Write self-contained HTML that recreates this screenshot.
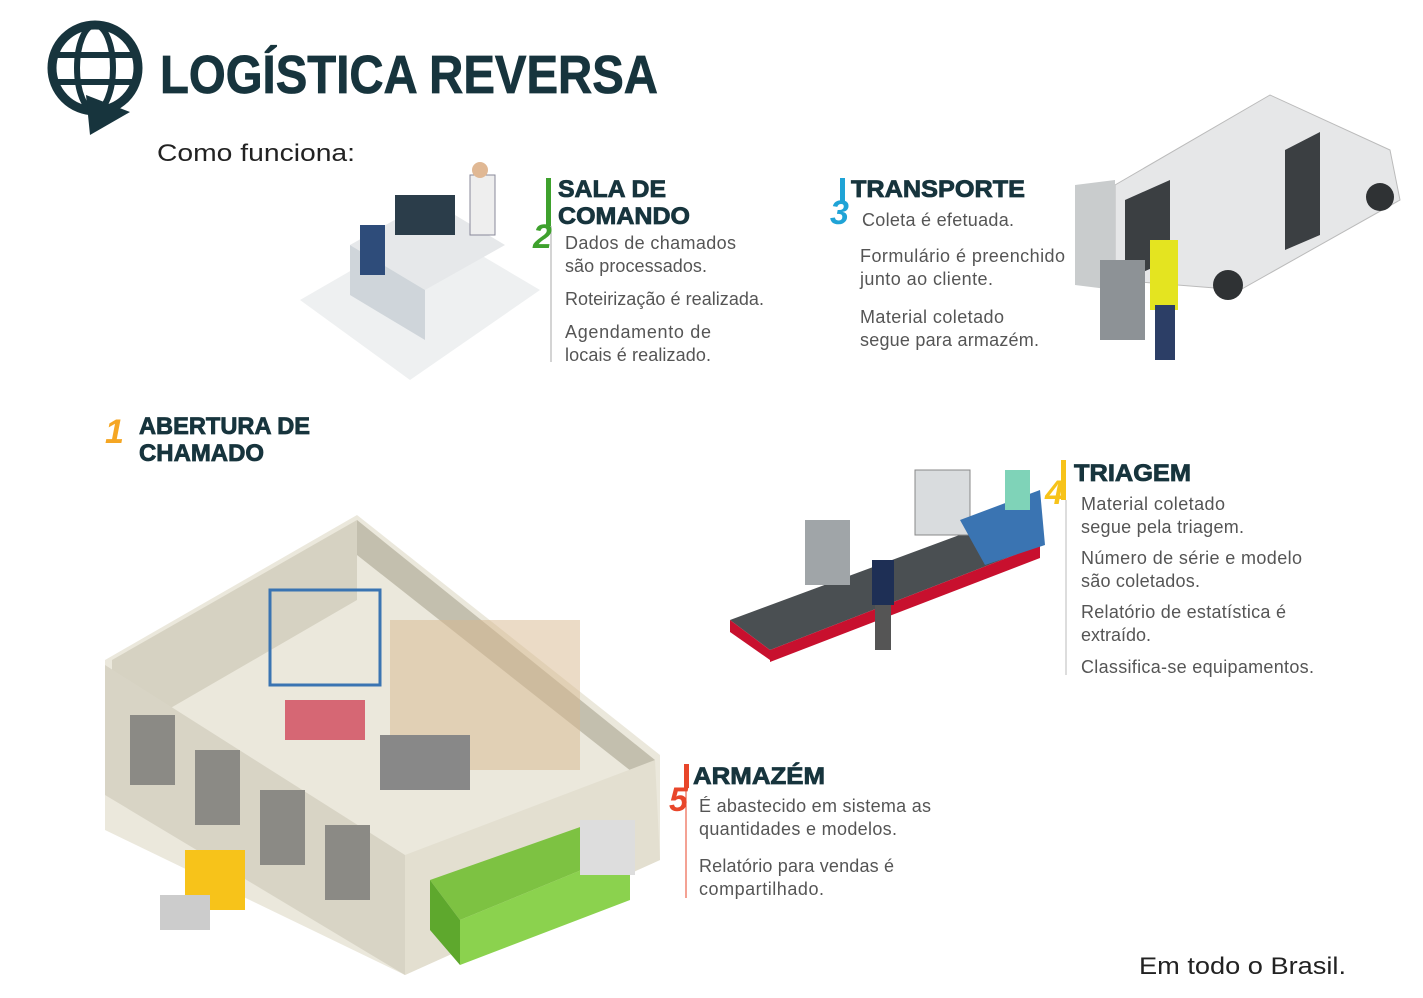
<!DOCTYPE html>
<html><head><meta charset="utf-8"><style>
html,body{margin:0;padding:0;background:#fff;}
svg{display:block}
.h{font-family:"Liberation Sans",sans-serif;font-weight:bold;fill:#17343d;stroke:#17343d;stroke-width:0.8}
.t{font-family:"Liberation Sans",sans-serif;fill:#555;font-size:18px}
.n{font-family:"Liberation Sans",sans-serif;font-weight:bold;font-style:italic;font-size:34px}
</style></head><body>
<svg width="1423" height="998" viewBox="0 0 1423 998" xmlns="http://www.w3.org/2000/svg">
<!-- logo -->
<circle cx="95" cy="68" r="43" fill="none" stroke="#17343d" stroke-width="9"/>
<ellipse cx="95" cy="68" rx="18" ry="43" fill="none" stroke="#17343d" stroke-width="6"/>
<line x1="52" y1="55" x2="138" y2="55" stroke="#17343d" stroke-width="6"/>
<line x1="52" y1="82" x2="138" y2="82" stroke="#17343d" stroke-width="6"/>
<polygon points="86,95 130,112 90,135" fill="#17343d"/>
<text class="h" x="160" y="93" font-size="54" textLength="498" lengthAdjust="spacingAndGlyphs" stroke-width="2">LOGÍSTICA REVERSA</text>
<text x="157" y="161" font-family="Liberation Sans,sans-serif" font-size="24" fill="#222" textLength="198" lengthAdjust="spacingAndGlyphs">Como funciona:</text>

<!-- desk illustration -->
<polygon points="300,300 430,225 540,290 410,380" fill="#eef0f1"/>
<polygon points="350,245 430,200 505,245 425,290" fill="#e6e8ea"/>
<polygon points="350,245 425,290 425,340 350,295" fill="#cfd5da"/>
<rect x="395" y="195" width="60" height="40" fill="#2b3d4a"/>
<rect x="360" y="225" width="25" height="50" fill="#2e4c7a"/>
<rect x="470" y="175" width="25" height="60" fill="#eee" stroke="#889"/>
<circle cx="480" cy="170" r="8" fill="#e0b894"/>

<!-- text section 2 -->
<rect x="546" y="178" width="5" height="48" fill="#3ea12d"/>
<line x1="551" y1="226" x2="551" y2="362" stroke="#aaa" stroke-width="1"/>
<text class="n" x="533" y="248" fill="#3ea12d">2</text>
<text class="h" x="558" y="197" font-size="24" textLength="108" lengthAdjust="spacingAndGlyphs">SALA DE</text>
<text class="h" x="558" y="224" font-size="24" textLength="132" lengthAdjust="spacingAndGlyphs">COMANDO</text>
<text class="t" x="565" y="249" textLength="171">Dados de chamados</text>
<text class="t" x="565" y="272" textLength="142">são processados.</text>
<text class="t" x="565" y="305" textLength="199">Roteirização é realizada.</text>
<text class="t" x="565" y="338" textLength="146">Agendamento de</text>
<text class="t" x="565" y="361" textLength="146">locais é realizado.</text>

<!-- section 3 -->
<rect x="840" y="178" width="5" height="24" fill="#1fa3d6"/>
<text class="n" x="830" y="224" fill="#1fa3d6">3</text>
<text class="h" x="851" y="197" font-size="24" textLength="174" lengthAdjust="spacingAndGlyphs">TRANSPORTE</text>
<text class="t" x="862" y="226" textLength="152">Coleta é efetuada.</text>
<text class="t" x="860" y="262" textLength="205">Formulário é preenchido</text>
<text class="t" x="860" y="285" textLength="133">junto ao cliente.</text>
<text class="t" x="860" y="323" textLength="144">Material coletado</text>
<text class="t" x="860" y="346" textLength="179">segue para armazém.</text>

<!-- van -->
<polygon points="1115,185 1270,95 1390,150 1400,200 1240,290 1115,280" fill="#e6e7e8" stroke="#bbb"/>
<polygon points="1075,185 1115,180 1115,290 1075,285" fill="#c9cccd"/>
<polygon points="1125,200 1170,180 1170,260 1125,280" fill="#3b3f42"/>
<polygon points="1285,150 1320,132 1320,235 1285,250" fill="#3b3f42"/>
<circle cx="1228" cy="285" r="15" fill="#2f3234"/>
<circle cx="1380" cy="197" r="14" fill="#2f3234"/>
<rect x="1100" y="260" width="45" height="80" fill="#8d9296"/>
<rect x="1150" y="240" width="28" height="70" fill="#e4e420"/>
<rect x="1155" y="305" width="20" height="55" fill="#2c3e66"/>

<!-- section 1 -->
<text class="n" x="105" y="443" fill="#f5a623">1</text>
<text class="h" x="139" y="434" font-size="24" textLength="171" lengthAdjust="spacingAndGlyphs">ABERTURA DE</text>
<text class="h" x="139" y="461" font-size="24" textLength="125" lengthAdjust="spacingAndGlyphs">CHAMADO</text>

<!-- conveyor -->
<polygon points="730,620 1000,520 1040,545 770,650" fill="#4a4f52"/>
<polygon points="730,620 770,650 770,660 730,632" fill="#c8102e"/>
<polygon points="770,650 1040,545 1040,558 770,662" fill="#c8102e"/>
<rect x="915" y="470" width="55" height="65" fill="#d9dcde" stroke="#888"/>
<rect x="805" y="520" width="45" height="65" fill="#a0a5a8"/>
<polygon points="960,520 1040,490 1045,545 985,565" fill="#3a74b2"/>
<rect x="1005" y="470" width="25" height="40" fill="#7fd3b8"/>
<rect x="872" y="560" width="22" height="45" fill="#1e2f55"/>
<rect x="875" y="605" width="16" height="45" fill="#555"/>

<!-- section 4 -->
<rect x="1061" y="460" width="5" height="40" fill="#f7c31a"/>
<line x1="1066" y1="500" x2="1066" y2="675" stroke="#bbb"/>
<text class="n" x="1045" y="504" fill="#f7c31a">4</text>
<text class="h" x="1074" y="481" font-size="24" textLength="117" lengthAdjust="spacingAndGlyphs">TRIAGEM</text>
<text class="t" x="1081" y="510" textLength="144">Material coletado</text>
<text class="t" x="1081" y="533" textLength="163">segue pela triagem.</text>
<text class="t" x="1081" y="564" textLength="221">Número de série e modelo</text>
<text class="t" x="1081" y="587" textLength="119">são coletados.</text>
<text class="t" x="1081" y="618" textLength="205">Relatório de estatística é</text>
<text class="t" x="1081" y="641" textLength="70">extraído.</text>
<text class="t" x="1081" y="673" textLength="233">Classifica-se equipamentos.</text>

<!-- warehouse -->
<polygon points="105,660 357,515 660,755 660,860 405,975 105,830" fill="#ebe8dc"/>
<polygon points="112,660 357,520 357,600 112,742" fill="#d6d2c2"/>
<polygon points="357,520 655,760 655,790 357,555" fill="#c3bfae"/>
<polygon points="105,665 405,855 405,975 105,795" fill="#d8d4c5"/>
<polygon points="405,855 655,760 660,860 405,975" fill="#e3dfd0"/>
<rect x="130" y="715" width="45" height="70" fill="#8b8a85"/>
<rect x="195" y="750" width="45" height="75" fill="#8b8a85"/>
<rect x="260" y="790" width="45" height="75" fill="#8b8a85"/>
<rect x="325" y="825" width="45" height="75" fill="#8b8a85"/>
<rect x="270" y="590" width="110" height="95" fill="none" stroke="#3a74b2" stroke-width="3"/>
<rect x="390" y="620" width="190" height="150" fill="#d8b88e" opacity=".5"/>
<rect x="285" y="700" width="80" height="40" fill="#c8102e" opacity=".6"/>
<rect x="380" y="735" width="90" height="55" fill="#888"/>
<polygon points="430,880 600,820 630,850 460,920" fill="#7dc242"/>
<polygon points="430,880 460,920 460,965 430,930" fill="#5ea82d"/>
<polygon points="460,920 630,850 630,900 460,965" fill="#8bd24e"/>
<rect x="580" y="820" width="55" height="55" fill="#ddd"/>
<rect x="185" y="850" width="60" height="60" fill="#f7c31a"/>
<rect x="160" y="895" width="50" height="35" fill="#ccc"/>

<!-- section 5 -->
<rect x="684" y="764" width="5" height="24" fill="#e8462a"/>
<line x1="686" y1="790" x2="686" y2="898" stroke="#e8462a"/>
<text class="n" x="669" y="811" fill="#e8462a">5</text>
<text class="h" x="693" y="784" font-size="24" textLength="132" lengthAdjust="spacingAndGlyphs">ARMAZÉM</text>
<text class="t" x="699" y="812" textLength="232">É abastecido em sistema as</text>
<text class="t" x="699" y="835" textLength="198">quantidades e modelos.</text>
<text class="t" x="699" y="872" textLength="195">Relatório para vendas é</text>
<text class="t" x="699" y="895" textLength="125">compartilhado.</text>

<text x="1139" y="974" font-family="Liberation Sans,sans-serif" font-size="24" fill="#222" textLength="207" lengthAdjust="spacingAndGlyphs">Em todo o Brasil.</text>
</svg>
</body></html>
